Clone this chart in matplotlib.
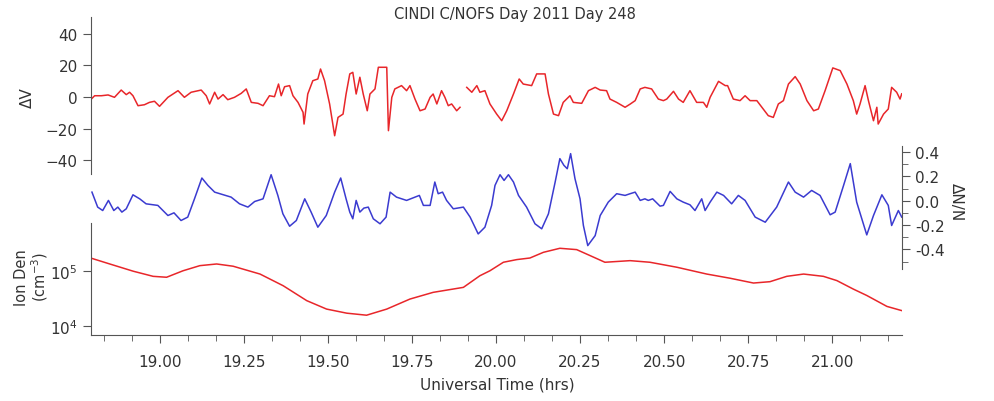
import numpy as np
import matplotlib.pyplot as plt
from matplotlib.ticker import MultipleLocator, FixedLocator, NullLocator

# Delta V (top panel), time in UT hours
dv_t = [18.796, 18.806, 18.826, 18.846, 18.865, 18.885, 18.900, 18.910, 18.920, 18.935,
        18.954, 18.969, 18.984, 18.999, 19.024, 19.054, 19.073, 19.093, 19.123, 19.138,
        19.148, 19.163, 19.173, 19.188, 19.202, 19.222, 19.242, 19.257, 19.272, 19.292,
        19.307, 19.326, 19.341, 19.353, 19.361, 19.371, 19.386, 19.396, 19.411, 19.426,
        19.429, 19.440, 19.455, 19.470, 19.478, 19.490, 19.505, 19.520, 19.530, 19.545,
        19.554, 19.565, 19.574, 19.584, 19.595, 19.605, 19.617, 19.625, 19.640, 19.650,
        19.665, 19.675, 19.680, 19.690, 19.699, 19.719, 19.734, 19.744, 19.759, 19.774,
        19.789, 19.804, 19.813, 19.824, 19.838, 19.848, 19.858, 19.868, 19.883, 19.893,
        19.903,
        19.913, 19.928, 19.943, 19.952, 19.967, 19.982, 20.002, 20.017, 20.032, 20.052,
        20.069, 20.081, 20.106, 20.121, 20.146, 20.156, 20.171, 20.186, 20.200, 20.220,
        20.230, 20.255, 20.275, 20.295, 20.310, 20.329, 20.339, 20.359, 20.384, 20.399,
        20.414, 20.429, 20.443, 20.463, 20.483, 20.498, 20.508, 20.528, 20.543, 20.557,
        20.577, 20.597, 20.617, 20.627, 20.637, 20.662, 20.682, 20.689, 20.706, 20.726,
        20.741, 20.756, 20.776, 20.791, 20.810, 20.825, 20.840, 20.855, 20.870, 20.890,
        20.905, 20.925, 20.945, 20.959, 20.979, 21.002, 21.024, 21.044, 21.063, 21.073,
        21.083, 21.098, 21.108, 21.123, 21.133, 21.137, 21.153, 21.167, 21.177, 21.192,
        21.202, 21.207]
dv = [-1.3, 0.8, 0.8, 1.3, -0.2, 4.4, 1.5, 3.0, 0.8, -5.5,
      -4.9, -3.4, -2.7, -5.9, -0.2, 4.0, -0.2, 3.0, 4.4, 0.8,
      -4.4, 3.0, -1.3, 1.5, -1.7, -0.2, 2.3, 5.1, -3.4, -4.0,
      -5.5, 0.8, 0.2, 8.2, 0.8, 6.5, 7.2, 0.8, -3.4, -9.7,
      -17.1, 1.9, 10.3, 11.4, 17.7, 10.3, -4.4, -24.5, -12.9, -10.8,
      1.9, 14.6, 15.6, 1.9, 12.5, 1.9, -8.7, 1.9, 5.1, 18.8,
      18.8, 18.8, -21.3, -0.2, 5.1, 7.2, 4.0, 7.2, -1.3, -8.7,
      -7.6, -0.2, 1.9, -4.4, 4.0, -0.2, -5.5, -4.4, -8.7, -6.5,
      np.nan,
      6.1, 3.0, 7.2, 3.0, 4.0, -4.4, -10.8, -15.0, -8.7, 1.9,
      11.4, 8.2, 7.2, 14.6, 14.6, 1.9, -10.8, -11.8, -3.4, 0.8,
      -3.4, -4.0, 4.0, 6.1, 4.4, 4.0, -1.3, -3.4, -6.5, -4.5,
      -2.3, 5.1, 6.1, 5.1, -1.3, -2.3, -1.3, 3.6, -1.3, -3.4,
      4.0, -3.4, -3.4, -6.5, -0.2, 9.9, 7.2, 7.2, -1.3, -2.3,
      0.8, -2.3, -2.3, -6.5, -11.8, -12.9, -4.4, -2.3, 8.2, 12.9,
      8.2, -2.3, -8.7, -7.6, 4.0, 18.4, 16.7, 8.2, -2.3, -10.8,
      -4.4, 7.2, -2.3, -15.0, -6.5, -17.1, -10.8, -7.6, 6.1, 3.0,
      -1.3, 2.0]

# Delta N / N (middle panel)
dn_t = [18.798, 18.815, 18.830, 18.847, 18.863, 18.875, 18.887, 18.900, 18.920, 18.940,
        18.959, 18.994, 19.024, 19.042, 19.063, 19.083, 19.103, 19.125, 19.143, 19.163,
        19.212, 19.237, 19.262, 19.282, 19.307, 19.331, 19.351, 19.366, 19.386, 19.406,
        19.431, 19.450, 19.470, 19.495, 19.520, 19.538, 19.554, 19.565, 19.574, 19.584,
        19.595, 19.607, 19.620, 19.635, 19.655, 19.673, 19.685, 19.704, 19.734, 19.772,
        19.784, 19.804, 19.818, 19.828, 19.841, 19.853, 19.873, 19.903, 19.923, 19.947,
        19.967, 19.987, 19.997, 20.012, 20.024, 20.037, 20.052, 20.067, 20.091, 20.116,
        20.136, 20.156, 20.176, 20.190, 20.202, 20.212, 20.222, 20.235, 20.250, 20.260,
        20.273, 20.295, 20.310, 20.334, 20.359, 20.384, 20.399, 20.414, 20.429, 20.443,
        20.453, 20.466, 20.488, 20.498, 20.518, 20.538, 20.557, 20.577, 20.592, 20.612,
        20.622, 20.637, 20.657, 20.677, 20.701, 20.721, 20.741, 20.771, 20.801, 20.835,
        20.870, 20.890, 20.915, 20.939, 20.964, 20.994, 21.009, 21.034, 21.054, 21.073,
        21.103, 21.123, 21.148, 21.167, 21.177, 21.197, 21.207]
dn = [0.071, -0.052, -0.080, 0.003, -0.080, -0.052, -0.093, -0.066, 0.049, 0.016,
      -0.025, -0.038, -0.121, -0.099, -0.162, -0.134, 0.016, 0.187, 0.126, 0.071,
      0.030, -0.025, -0.052, -0.006, 0.016, 0.214, 0.044, -0.107, -0.209, -0.162,
      0.016, -0.093, -0.217, -0.121, 0.071, 0.187, 0.016, -0.093, -0.148, 0.003,
      -0.093, -0.060, -0.052, -0.148, -0.189, -0.134, 0.071, 0.030, 0.003, 0.044,
      -0.038, -0.038, 0.154, 0.058, 0.071, 0.003, -0.066, -0.052, -0.134, -0.272,
      -0.217, -0.038, 0.126, 0.214, 0.167, 0.214, 0.154, 0.044, -0.052, -0.189,
      -0.230, -0.107, 0.154, 0.346, 0.291, 0.263, 0.387, 0.181, 0.016, -0.203,
      -0.368, -0.286, -0.121, -0.011, 0.058, 0.044, 0.058, 0.071, 0.003, 0.016,
      0.003, 0.016, -0.044, -0.038, 0.077, 0.016, -0.011, -0.033, -0.080, 0.016,
      -0.080, -0.011, 0.071, 0.044, -0.025, 0.044, 0.003, -0.134, -0.176, -0.052,
      0.154, 0.071, 0.030, 0.085, 0.044, -0.115, -0.093, 0.126, 0.305, -0.011,
      -0.280, -0.121, 0.049, -0.038, -0.203, -0.080, -0.134]

# Ion density, cm^-3 (bottom panel)
ni_t = [18.794, 18.851, 18.921, 18.980, 19.020, 19.069, 19.119, 19.169, 19.218, 19.298,
        19.367, 19.437, 19.496, 19.556, 19.615, 19.675, 19.744, 19.813, 19.903, 19.952,
        19.982, 20.022, 20.062, 20.101, 20.141, 20.190, 20.240, 20.280, 20.324, 20.399,
        20.458, 20.538, 20.627, 20.696, 20.766, 20.815, 20.865, 20.915, 20.974, 21.014,
        21.063, 21.103, 21.163, 21.209]
ni = [1.72e5, 1.34e5, 9.9e4, 8.0e4, 7.7e4, 1.01e5, 1.25e5, 1.34e5, 1.22e5, 8.8e4,
      5.4e4, 2.9e4, 2.04e4, 1.72e4, 1.58e4, 2.04e4, 3.1e4, 4.1e4, 5.05e4, 8.2e4,
      1.01e5, 1.44e5, 1.61e5, 1.72e5, 2.18e5, 2.58e5, 2.44e5, 1.90e5, 1.44e5, 1.54e5,
      1.44e5, 1.17e5, 8.8e4, 7.4e4, 6.05e4, 6.4e4, 8.0e4, 8.8e4, 8.0e4, 6.7e4,
      4.7e4, 3.6e4, 2.28e4, 1.90e4]

xticks = [19.00, 19.25, 19.50, 19.75, 20.00, 20.25, 20.50, 20.75, 21.00]

red = '#e8262a'
blue = '#3b3bd0'
gray = '#555555'
tcol = '#333333'
xlim = (18.795, 21.208)

plt.rcParams['font.family'] = 'DejaVu Sans'
plt.rcParams['font.size'] = 10.5

fig = plt.figure(figsize=(9.94, 4.02), dpi=100)

ax1 = fig.add_axes([0.0915, 0.5647, 0.816, 0.3905])
ax2 = fig.add_axes([0.0915, 0.3284, 0.816, 0.306])
ax3 = fig.add_axes([0.0915, 0.1642, 0.816, 0.2786])
for a in (ax1, ax2, ax3):
    a.patch.set_alpha(0)
    a.set_xlim(*xlim)
    for s in a.spines.values():
        s.set_visible(False)
        s.set_color(gray)

# top: delta V
ax1.plot(dv_t, dv, color=red, lw=1.1)
ax1.set_ylim(-48.7, 50.6)
ax1.spines['left'].set_visible(True)
ax1.set_yticks([-40, -20, 0, 20, 40])
ax1.set_xticks([])
ax1.tick_params(axis='y', direction='out', length=6, color=gray, labelcolor=tcol, labelsize=11)

# middle: delta N / N
ax2.plot(dn_t, dn, color=blue, lw=1.1)
ax2.set_ylim(-0.56, 0.45)
ax2.spines['right'].set_visible(True)
ax2.yaxis.tick_right()
ax2.set_yticks([-0.4, -0.2, 0.0, 0.2, 0.4])
ax2.set_yticklabels(['-0.4', '-0.2', '0.0', '0.2', '0.4'])
ax2.yaxis.set_minor_locator(MultipleLocator(0.1))
ax2.set_xticks([])
ax2.tick_params(axis='y', which='major', direction='out', length=6, color=gray,
                labelcolor=tcol, labelsize=11)
ax2.tick_params(axis='y', which='minor', direction='out', length=4, color=gray)

# bottom: ion density
ax3.plot(ni_t, ni, color=red, lw=1.1)
ax3.set_yscale('log')
ax3.set_ylim(10**3.84, 10**5.87)
ax3.spines['left'].set_visible(True)
ax3.spines['bottom'].set_visible(True)
ax3.yaxis.set_major_locator(FixedLocator([1e4, 1e5]))
ax3.yaxis.set_minor_locator(NullLocator())
ax3.set_xticks(xticks)
ax3.set_xticklabels([f'{v:.2f}' for v in xticks])
ax3.xaxis.set_minor_locator(MultipleLocator(0.25 / 3))
ax3.tick_params(which='major', direction='out', length=6, color=gray, labelcolor=tcol, labelsize=11)
ax3.tick_params(which='minor', direction='out', length=4, color=gray)
ax3.tick_params(axis='x', pad=8)

fig.text(0.518, 0.965, 'CINDI C/NOFS Day 2011 Day 248', ha='center', va='center',
         fontsize=10.5, color=tcol)
fig.text(0.028, 0.756, 'ΔV', rotation=90, ha='center', va='center', fontsize=11, color=tcol)
fig.text(0.962, 0.498, 'ΔN/N', rotation=-90, ha='center', va='center', fontsize=11, color=tcol)
fig.text(0.032, 0.31, 'Ion Den\n(cm$^{-3}$)', rotation=90, ha='center', va='center',
         fontsize=10.5, color=tcol, linespacing=1.0)
fig.text(0.5, 0.043, 'Universal Time (hrs)', ha='center', va='center', fontsize=11, color=tcol)

fig.savefig('out.png', dpi=100)
